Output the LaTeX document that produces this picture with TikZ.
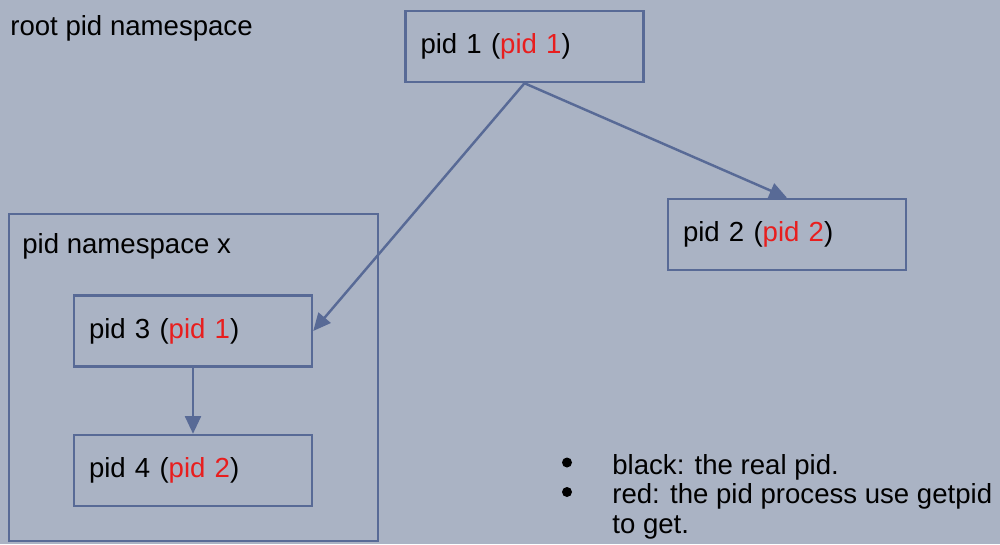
\documentclass[tikz,border=0pt]{standalone}
\usepackage{fontspec}
\setmainfont{Liberation Sans}
\usetikzlibrary{arrows, arrows.meta, positioning}
\usepackage{xcolor}
\definecolor{slidebg}{RGB}{170,179,196}
\definecolor{boxline}{RGB}{88,106,150}
\definecolor{pidred}{RGB}{232,30,30}
\tikzstyle{pidbox}    = [draw=boxline, line width=1.4pt, rectangle, minimum height=1.42cm, text width=4.16cm, inner xsep=0.3cm, align=left, font=\fontsize{15.7}{19}\selectfont]
\tikzstyle{nsbox}     = [draw=boxline, line width=1.4pt, rectangle, inner sep=0pt]
\tikzstyle{nstext}    = [anchor=west, inner sep=0pt, font=\fontsize{15.7}{19}\selectfont]
\tikzstyle{bullet}    = [circle, fill=black, inner sep=0pt, minimum size=0.2cm]
\tikzstyle{diredge}   = [draw=boxline, line width=1.4pt, -{Triangle[length=10pt,width=9pt]}]
\newcommand{\redpid}[1]{\textcolor{pidred}{pid #1}}

\begin{document}
\begin{tikzpicture}[scale=1]

\fill[slidebg] (0,0) rectangle (20,-10.88);
\useasboundingbox (0,0) rectangle (20,-10.88);

\node[nstext] (ROOT) at (0.2,-0.56) {root pid namespace};
\node[nsbox, minimum width=7.38cm, minimum height=6.54cm] (NSX) at (3.87,-7.55) {};
\node[nstext] (NSXT) at (0.44,-4.92) {pid namespace x};

\node[pidbox] (P1) at (10.49,-0.93) {pid 1 (\redpid{1})};
\node[pidbox] (P2) at (15.74,-4.69) {pid 2 (\redpid{2})};
\node[pidbox] (P3) at (3.86,-6.62) {pid 3 (\redpid{1})};
\node[pidbox] (P4) at (3.86,-9.41) {pid 4 (\redpid{2})};

\draw[diredge] (P1.south) -- (P3.east);
\draw[diredge] (P1.south) -- (P2.north);
\draw[diredge] (P3.south) -- (P4.north);

% legend
\node[bullet] (B1) at (11.34,-9.25) {};
\node[bullet] (B2) at (11.34,-9.84) {};
\node[anchor=north west, inner sep=0pt, align=left, font=\fontsize{15.7}{16.8}\selectfont] (LEG) at (12.24,-9.08) {black: the real pid.\\red: the pid process use getpid\\to get.};

\end{tikzpicture}
\end{document}
